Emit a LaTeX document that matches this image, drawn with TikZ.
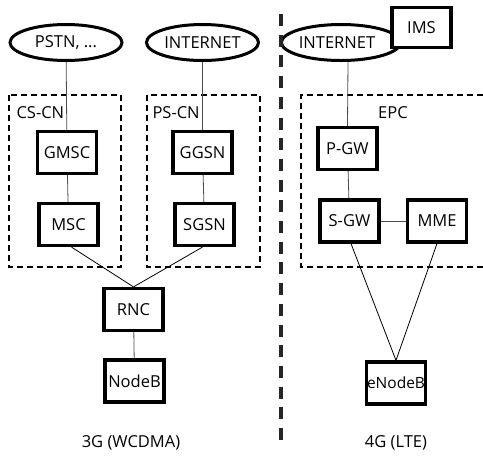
\documentclass[tikz,border=0pt]{standalone}
\usepackage{fontspec}
\setmainfont{Open Sans}
\usepackage{tikz}
\usetikzlibrary{shapes.geometric, positioning, calc}

\tikzset{
	netbox/.style={draw, line width=3.2pt, fill=white, minimum width=59pt, minimum height=42pt, inner sep=1pt},
	netcloud/.style={draw, ellipse, line width=3pt, fill=white, minimum width=112pt, minimum height=36pt, inner sep=0pt},
	corebox/.style={draw, line width=1.5pt, dash pattern=on 6pt off 4pt},
	netlink/.style={line width=0.8pt, black!70},
	nettext/.style={font=\fontsize{16.5}{18}\selectfont}
}

\begin{document}
\begin{tikzpicture}[x=1pt, y=-1pt, every node/.style={nettext}]
	\useasboundingbox (0,0) rectangle (483,456);
	
	% core network domains
	\draw[corebox] (9,95) rectangle (121,267);
	\draw[corebox] (147,95) rectangle (260,267);
	\draw[corebox] (483,95) -- (301,95) -- (301,267) -- (483,267);
	\node[anchor=west] (cscn) at (13,113) {CS-CN};
	\node[anchor=west] (pscn) at (149,113) {PS-CN};
	\node (epc) at (393,113) {EPC};
	
	% 3G side
	\node[netcloud] (pstn) at (66,42.5) {PSTN, ...};
	\node[netcloud] (inet3) at (202.5,42.5) {INTERNET};
	\node[netbox] (gmsc) at (67,152.5) {GMSC};
	\node[netbox] (ggsn) at (202.5,152.5) {GGSN};
	\node[netbox] (msc) at (68.5,224.5) {MSC};
	\node[netbox] (sgsn) at (204.5,224.5) {SGSN};
	\node[netbox] (rnc) at (133.5,309.5) {RNC};
	\node[netbox] (nodeb) at (134.5,381) {NodeB};
	
	\draw[netlink] (pstn) -- (gmsc);
	\draw[netlink] (inet3) -- (ggsn);
	\draw[netlink] (gmsc) -- (msc);
	\draw[netlink] (ggsn) -- (sgsn);
	\draw[line width=0.8pt] ($(msc.south)+(3,0)$) -- (rnc.north);
	\draw[line width=0.8pt] ($(sgsn.south)+(-2,0)$) -- (rnc.north);
	\draw[netlink] (rnc) -- (nodeb);
	
	% 4G side
	\node[netcloud, minimum width=103pt] (inet4) at (341,42.5) {INTERNET\hspace*{8pt}};
	\node[netbox, minimum height=40pt] (ims) at (421.5,27.5) {IMS};
	\node[netbox] (pgw) at (347.5,148.5) {P-GW};
	\node[netbox] (sgw) at (349.5,221) {S-GW};
	\node[netbox] (mme) at (437,221) {MME};
	\node[netbox, inner sep=0pt, font=\fontsize{15.5}{17}\selectfont] (enodeb) at (396,383) {eNodeB};
	
	\draw[netlink] ($(inet4.south)+(7,0)$) -- (pgw.north);
	\draw[netlink] (pgw) -- (sgw);
	\draw[netlink] (sgw) -- (mme);
	\draw[line width=0.8pt] ($(sgw.south)+(1.5,0)$) -- (enodeb.north);
	\draw[line width=0.8pt] (mme.south) -- (enodeb.north);
	
	% divider and captions
	\coordinate (divtop) at (281,14);
	\coordinate (divbot) at (281,448);
	\draw[line width=4pt, black!85, dash pattern=on 12pt off 8.7pt] (divtop) -- (divbot);
	\node (g3) at (131,443) {3G (WCDMA)};
	\node (g4) at (396,443) {4G (LTE)};
\end{tikzpicture}
\end{document}
